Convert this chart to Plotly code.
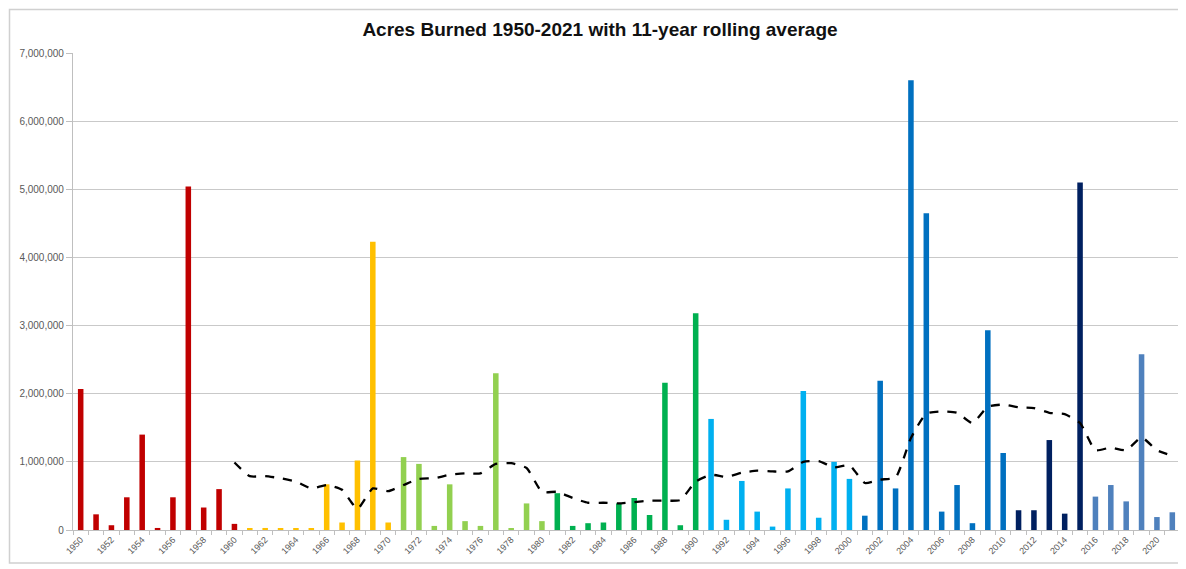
import plotly.graph_objects as go

years = list(range(1950, 2022))
acres = [
    2070000, 230000, 70000, 480000, 1400000, 30000, 480000, 5040000, 330000, 600000,
    90000, 20000, 30000, 20000, 20000, 20000, 670000, 110000, 1020000, 4230000,
    110000, 1070000, 970000, 60000, 670000, 130000, 60000, 2300000, 15000, 390000,
    130000, 540000, 60000, 100000, 110000, 390000, 470000, 220000, 2160000, 70000,
    3180000, 1630000, 150000, 720000, 270000, 50000, 610000, 2040000, 180000, 1000000,
    750000, 210000, 2190000, 610000, 6600000, 4650000, 270000, 660000, 100000, 2930000,
    1130000, 290000, 290000, 1320000, 240000, 5100000, 490000, 660000, 420000, 2580000,
    190000, 260000,
]

avg_years = list(range(1960, 2022))
rolling_avg = [
    990000, 790000, 790000, 760000, 710000, 610000, 660000, 590000, 310000, 610000,
    570000, 660000, 750000, 760000, 810000, 830000, 830000, 970000, 980000, 910000,
    560000, 560000, 470000, 400000, 400000, 390000, 410000, 430000, 430000, 440000,
    710000, 810000, 780000, 840000, 870000, 860000, 860000, 1000000, 1010000, 920000,
    950000, 690000, 740000, 770000, 1350000, 1710000, 1740000, 1720000, 1570000, 1810000,
    1840000, 1800000, 1790000, 1720000, 1700000, 1570000, 1170000, 1210000, 1170000, 1360000,
    1170000, 1090000,
]

tick_years = list(range(1950, 2022, 2))
tick_labels = [str(y) for y in tick_years]

# colour groups (first year, last year, colour)
color_groups = [
    (1950, 1960, "#C00000"),
    (1961, 1970, "#FFC000"),
    (1971, 1980, "#92D050"),
    (1981, 1990, "#00B050"),
    (1991, 2000, "#00B0F0"),
    (2001, 2010, "#0070C0"),
    (2011, 2015, "#002060"),
    (2016, 2021, "#4F81BD"),
]

def color_for(y):
    for a, b, c in color_groups:
        if a <= y <= b:
            return c
    return "#888888"

bar_colors = [color_for(y) for y in years]

fig = go.Figure()
fig.add_trace(go.Bar(
    x=years, y=acres, marker=dict(color=bar_colors, line=dict(width=0)),
    showlegend=False, name="Acres burned",
))
fig.add_trace(go.Scatter(
    x=avg_years, y=rolling_avg, mode="lines",
    line=dict(color="black", width=2.3, dash="dash", shape="spline", smoothing=0.5),
    showlegend=False, name="11-year rolling average",
))

# page body has an 8px default margin, so the figure is sized to fit the window
W, H = 1178, 561
fig.update_layout(
    width=W, height=H,
    margin=dict(l=65, r=6, t=45, b=39),
    paper_bgcolor="white", plot_bgcolor="white",
    bargap=0.64,
    title=dict(text="<b>Acres Burned 1950-2021 with 11-year rolling average</b>",
               x=(600 - 8) / W, xanchor="center", y=(H - 21) / H, yanchor="middle",
               font=dict(family="Liberation Sans, Arial", size=19, color="#111111")),
    font=dict(family="Liberation Sans, Arial", size=10, color="#595959"),
)

fig.update_yaxes(
    range=[0, 7000000], dtick=1000000, tickformat=",d",
    showgrid=True, gridcolor="#C9C9C9", gridwidth=1.2,
    showline=True, linecolor="#BFBFBF", linewidth=1.2,
    ticks="outside", ticklen=6, tickcolor="#BFBFBF",
    tickfont=dict(size=10, color="#595959"), zeroline=False,
)
fig.update_xaxes(
    range=[1949.5, 2021.5], tickvals=tick_years, ticktext=tick_labels,
    tickangle=-45, ticks="", showgrid=False,
    showline=True, linecolor="#BFBFBF", linewidth=1.2,
    minor=dict(tick0=1949.5, dtick=1, ticks="outside", ticklen=4, tickcolor="#BFBFBF", showgrid=False),
    tickfont=dict(size=9, color="#595959"), zeroline=False,
)

# outer chart border (plot area spans x 73..1180, y 53..530 in the window)
fig.add_shape(type="rect", xref="paper", yref="paper",
              x0=(9.5 - 73) / 1107, x1=(1184 - 73) / 1107,
              y0=(530 - 563) / 477, y1=(530 - 9.5) / 477,
              line=dict(color="#D0D0D0", width=1.5), layer="below")

fig.write_html("out.html")
